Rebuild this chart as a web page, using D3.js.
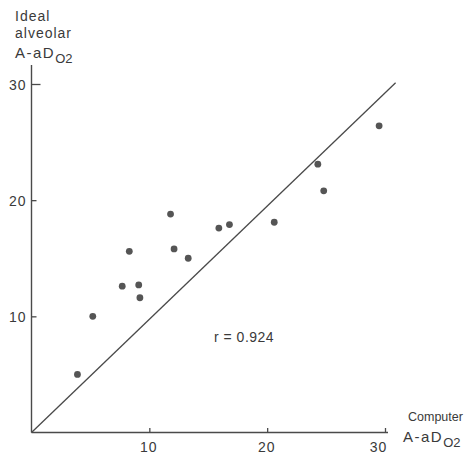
<!DOCTYPE html>
<html>
<head>
<meta charset="utf-8">
<script src="https://cdn.jsdelivr.net/npm/d3@7/dist/d3.min.js"></script>
<style>
  html, body { margin: 0; padding: 0; background: #fff; }
  svg { display: block; }
  text { font-family: "Liberation Sans", Arial, sans-serif; fill: #3a3a3a; }
</style>
</head>
<body>
<svg id="chart" width="466" height="454"></svg>
<script>
// Data: computer A-aDO2 (x) vs ideal alveolar A-aDO2 (y)
const computerX = [3.9, 5.2, 7.7, 8.3, 9.1, 9.2, 11.8, 12.1, 13.3, 15.9, 16.8, 20.6, 24.3, 24.8, 29.5];
const idealY    = [5.0, 10.0, 12.6, 15.6, 12.7, 11.6, 18.8, 15.8, 15.0, 17.6, 17.9, 18.1, 23.1, 20.8, 26.4];
const lineX = [0, 30.9];
const lineY = [0, 30.1];
const xTicks = [10, 20, 30];
const yTicks = [10, 20, 30];
const rLabel = "r = 0.924";

const svg = d3.select("#chart");
const x = d3.scaleLinear().domain([0, 30]).range([31.5, 385]);
const y = d3.scaleLinear().domain([0, 30]).range([432.5, 84]);
const ink = "#4a4a4a";

// X axis
const xAxis = d3.axisBottom(x).tickValues(xTicks).tickSize(0).tickPadding(0).tickFormat(d3.format("d"));
const gx = svg.append("g").attr("transform", `translate(0,${y(0)})`).call(xAxis);
gx.select(".domain").remove();
gx.append("line").attr("x1", x(0)).attr("x2", x(30) + 3).attr("y1", 0).attr("y2", 0)
  .attr("stroke", ink).attr("stroke-width", 1.4);
gx.selectAll(".tick line").attr("y1", 0).attr("y2", -4.5).attr("stroke", ink).attr("stroke-width", 1.3);
gx.selectAll(".tick text").attr("y", 19.5).attr("dy", 0).attr("font-size", 14)
  .attr("letter-spacing", 1).attr("fill", "#3a3a3a")
  .attr("dx", d => d === 30 ? -7 : -1);

// Y axis
const yAxis = d3.axisLeft(y).tickValues(yTicks).tickSize(0).tickPadding(0).tickFormat(d3.format("d"));
const gy = svg.append("g").attr("transform", `translate(${x(0)},0)`).call(yAxis);
gy.select(".domain").remove();
gy.append("line").attr("x1", 0).attr("x2", 0).attr("y1", y(0)).attr("y2", 65)
  .attr("stroke", ink).attr("stroke-width", 1.4);
gy.selectAll(".tick line").attr("x1", 0).attr("x2", d => d === 30 ? 9 : 5).attr("stroke", ink).attr("stroke-width", 1.3);
gy.selectAll(".tick text").attr("x", -5).attr("dy", "0.36em").attr("font-size", 14)
  .attr("letter-spacing", 1).attr("fill", "#3a3a3a");

// Identity line
svg.append("line")
  .attr("x1", x(lineX[0])).attr("y1", y(lineY[0]))
  .attr("x2", x(lineX[1])).attr("y2", y(lineY[1]))
  .attr("stroke", ink).attr("stroke-width", 1.3);

// Points
svg.append("g").selectAll("circle")
  .data(computerX.map((v, i) => [v, idealY[i]]))
  .join("circle")
  .attr("cx", d => x(d[0])).attr("cy", d => y(d[1]))
  .attr("r", 3.4).attr("fill", "#555");

// r label
svg.append("text").attr("x", 214).attr("y", 342).attr("font-size", 14)
  .attr("letter-spacing", 0.5).text(rLabel);

// Y axis title
const yt = svg.append("g").attr("font-size", 14);
yt.append("text").attr("x", 15).attr("y", 21).attr("letter-spacing", 1).text("Ideal");
yt.append("text").attr("x", 15).attr("y", 38).attr("letter-spacing", 1).text("alveolar");
const yt3 = yt.append("text").attr("x", 15).attr("y", 58).attr("font-size", 15);
yt3.append("tspan").attr("letter-spacing", 1.5).text("A-aD");
yt3.append("tspan").attr("dy", 5).attr("font-size", 13).text("O2");

// X axis title
const xt = svg.append("g").attr("font-size", 12.5);
xt.append("text").attr("x", 408).attr("y", 421).text("Computer");
const xt2 = xt.append("text").attr("x", 403).attr("y", 442).attr("font-size", 15);
xt2.append("tspan").attr("letter-spacing", 1.5).text("A-aD");
xt2.append("tspan").attr("dy", 5).attr("font-size", 13).text("O2");
</script>
</body>
</html>
